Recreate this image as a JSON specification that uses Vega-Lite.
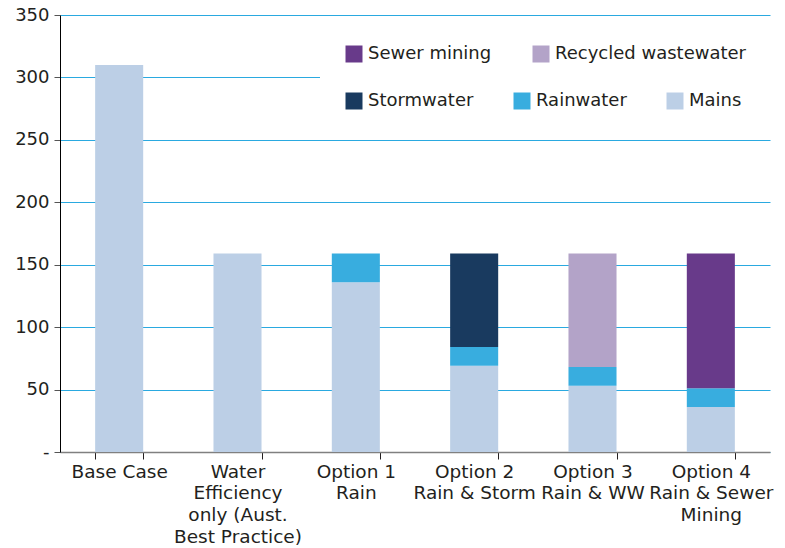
{
  "$schema": "https://vega.github.io/schema/vega-lite/v6.json",
  "width": 710,
  "height": 437,
  "autosize": {"type": "none"},
  "padding": {"left": 60, "top": 15, "right": 15, "bottom": 96},
  "background": "white",
  "config": {
    "font": "DejaVu Sans",
    "view": {"stroke": null}
  },
  "data": {
    "values": [
      {"option": "Base Case", "source": "Mains", "value": 310},
      {"option": "Water Efficiency", "source": "Mains", "value": 159},
      {"option": "Option 1", "source": "Mains", "value": 136},
      {"option": "Option 1", "source": "Rainwater", "value": 23},
      {"option": "Option 2", "source": "Mains", "value": 69},
      {"option": "Option 2", "source": "Rainwater", "value": 15},
      {"option": "Option 2", "source": "Stormwater", "value": 75},
      {"option": "Option 3", "source": "Mains", "value": 53},
      {"option": "Option 3", "source": "Rainwater", "value": 15},
      {"option": "Option 3", "source": "Recycled wastewater", "value": 91},
      {"option": "Option 4", "source": "Mains", "value": 36},
      {"option": "Option 4", "source": "Rainwater", "value": 15},
      {"option": "Option 4", "source": "Sewer mining", "value": 108}
    ]
  },
  "encoding": {
    "x": {
      "field": "option",
      "type": "nominal",
      "sort": null,
      "scale": {
        "domain": ["Base Case", "Water Efficiency", "Option 1", "Option 2", "Option 3", "Option 4"],
        "paddingInner": 0.594,
        "paddingOuter": 0.297
      },
      "axis": {
        "title": null,
        "labelAngle": 0,
        "labelExpr": "datum.value == 'Base Case' ? 'Base Case' : datum.value == 'Water Efficiency' ? ['Water', 'Efficiency', 'only (Aust.', 'Best Practice)'] : datum.value == 'Option 1' ? ['Option 1', 'Rain'] : datum.value == 'Option 2' ? ['Option 2', 'Rain & Storm'] : datum.value == 'Option 3' ? ['Option 3', 'Rain & WW'] : datum.value == 'Option 4' ? ['Option 4', 'Rain & Sewer', 'Mining'] : ''",
        "labelFont": "DejaVu Sans",
        "labelFontSize": 18.5,
        "labelColor": "#231f20",
        "labelLineHeight": 21.8,
        "labelBaseline": "top",
        "labelPadding": 3,
        "labelOverlap": false,
        "labelBound": false,
        "tickBand": "extent",
        "tickSize": 7,
        "tickColor": "#231f20",
        "domainColor": "#808080",
        "domainWidth": 1.5,
        "grid": false
      }
    }
  },
  "layer": [
    {
      "transform": [
        {"calculate": "indexof(['Mains','Rainwater','Stormwater','Recycled wastewater','Sewer mining'], datum.source)", "as": "stackOrder"}
      ],
      "mark": {"type": "bar"},
      "encoding": {
        "y": {
          "field": "value",
          "type": "quantitative",
          "stack": "zero",
          "scale": {"domain": [0, 350], "nice": false},
          "axis": {
            "title": null,
            "values": [0, 50, 100, 150, 200, 250, 300, 350],
            "labelExpr": "datum.value == 0 ? '-' : datum.label",
            "labelFont": "DejaVu Sans",
            "labelFontSize": 18,
            "labelColor": "#231f20",
            "labelPadding": 5,
            "tickSize": 6,
            "tickColor": "#555555",
            "domainColor": "#000000",
            "grid": true,
            "gridColor": "#2aa9e0",
            "gridWidth": 1
          }
        },
        "fill": {
          "field": "source",
          "type": "nominal",
          "scale": {
            "domain": ["Sewer mining", "Recycled wastewater", "Stormwater", "Rainwater", "Mains"],
            "range": ["#683a8a", "#b3a3c8", "#193a5f", "#38addf", "#bccfe6"]
          },
          "legend": {
            "title": null,
            "values": ["Stormwater", "Rainwater", "Mains"],
            "orient": "none",
            "legendX": 260,
            "legendY": 52,
            "direction": "horizontal",
            "columnPadding": 39,
            "padding": 25,
            "fillColor": "white",
            "symbolType": "square",
            "symbolSize": 289,
            "symbolStrokeWidth": 0,
            "symbolOpacity": 1,
            "labelFont": "DejaVu Sans",
            "labelFontSize": 18,
            "labelColor": "#231f20",
            "labelOffset": 5,
            "labelLimit": 300
          }
        },
        "order": {"field": "stackOrder", "type": "quantitative", "sort": "ascending"}
      }
    },
    {
      "transform": [
        {"filter": {"field": "source", "oneOf": ["Sewer mining", "Recycled wastewater"]}}
      ],
      "mark": {"type": "bar", "opacity": 0},
      "encoding": {
        "y": {
          "field": "value",
          "type": "quantitative",
          "stack": null
        },
        "fill": {
          "field": "source",
          "type": "nominal",
          "scale": {
            "domain": ["Sewer mining", "Recycled wastewater"],
            "range": ["#683a8a", "#b3a3c8"]
          },
          "legend": {
            "title": null,
            "orient": "none",
            "legendX": 260,
            "legendY": 5,
            "direction": "horizontal",
            "columnPadding": 40,
            "padding": 25,
            "fillColor": "white",
            "symbolType": "square",
            "symbolSize": 289,
            "symbolStrokeWidth": 0,
            "symbolOpacity": 1,
            "labelFont": "DejaVu Sans",
            "labelFontSize": 18,
            "labelColor": "#231f20",
            "labelOffset": 5,
            "labelLimit": 300
          }
        }
      }
    }
  ],
  "resolve": {"scale": {"fill": "independent"}, "legend": {"fill": "independent"}}
}
